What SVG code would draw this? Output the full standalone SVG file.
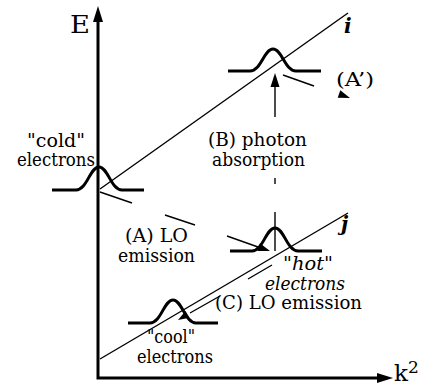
<svg xmlns="http://www.w3.org/2000/svg" width="431" height="387" viewBox="0 0 431 387">
<style>
text{font-family:'DejaVu Serif','Liberation Serif',serif;font-size:18px;fill:#000}
.it{font-style:italic}
.big{font-size:24px}
.lab{font-size:20px;font-weight:bold;font-style:italic}
.ax{stroke:#000;stroke-width:3;fill:none}
.band{stroke:#000;stroke-width:1.4;fill:none}
.g{stroke:#000;stroke-width:3;fill:none;stroke-linejoin:round}
.ln{stroke:#000;stroke-width:1.4;fill:none}
.ah{fill:#000;stroke:none}
</style>
<rect width="431" height="387" fill="#fff"/>
<g id="axes">
<path class="ax" d="M98,14 L98,378 L384,378"/>
<polygon class="ah" points="98,6 93,22 103,22"/>
<polygon class="ah" points="393,378 377,373 377,383"/>
<text class="big" x="70" y="33" textLength="20" lengthAdjust="spacingAndGlyphs">E</text>
<text style="font-size:23px" x="394" y="381">k<tspan style="font-size:17px" dy="-8">2</tspan></text>
</g>
<g id="band-i">
<path class="band" d="M100,189 L348,13"/>
<text class="lab" x="344" y="33">i</text>
</g>
<g id="band-j">
<path class="band" d="M100,359 L348,213"/>
<text class="lab" x="341" y="231">j</text>
</g>
<g id="cold">
<path class="g" d="M52,190 L76,190 C87,190 90,167 99,167 C108,167 111,190 122,190 L144,190"/>
<text x="27" y="147" textLength="58" lengthAdjust="spacingAndGlyphs">"cold"</text>
<text x="17" y="166" textLength="78" lengthAdjust="spacingAndGlyphs">electrons</text>
</g>
<g id="hot-upper">
<path class="g" d="M228,71 L250,71 C261,71 264,49 273,49 C282,49 285,71 296,71 L321,71"/>
</g>
<g id="hot">
<path class="g" d="M230,251 L252,251 C263,251 266,228 275,228 C284,228 287,251 298,251 L322,251"/>
<path class="ln" d="M275,212 L275,251"/>
<text class="it" x="283" y="270" textLength="50" lengthAdjust="spacingAndGlyphs">"hot"</text>
<text class="it" x="265" y="290" textLength="80" lengthAdjust="spacingAndGlyphs">electrons</text>
</g>
<g id="cool">
<path class="g" d="M128,323 L150,323 C161,323 164,300 173,300 C182,300 185,323 196,323 L218,323"/>
<text x="147" y="343" textLength="48" lengthAdjust="spacingAndGlyphs">"cool"</text>
<text x="137" y="363" textLength="76" lengthAdjust="spacingAndGlyphs">electrons</text>
</g>
<g id="connectors">
<path class="ln" d="M100,192 L132,203 M165,215 L195,225 M227,236 L258,247"/>
<polygon class="ah" points="270,251 257.4,250.9 260,243.3"/>
<path class="ln" d="M283,75 L314,86"/>
<polygon class="ah" points="350,98 337.7,97.8 340.3,90.2"/>
<path class="ln" d="M275,117 L275,84"/>
<polygon class="ah" points="275,73 270.5,87 279.5,87"/>
<path class="ln" d="M275,178 L275,184"/>
<path class="ln" d="M272,265 L248,279 M220,296 L190,313"/>
<polygon class="ah" points="178,320 189.5,317.8 185.5,311"/>
</g>
<g id="labels">
<text x="125" y="242" textLength="63" lengthAdjust="spacingAndGlyphs">(A) LO</text>
<text x="118" y="262" textLength="77" lengthAdjust="spacingAndGlyphs">emission</text>
<text x="208" y="146" textLength="99" lengthAdjust="spacingAndGlyphs">(B) photon</text>
<text x="212" y="166" textLength="93" lengthAdjust="spacingAndGlyphs">absorption</text>
<text x="336" y="86" textLength="38" lengthAdjust="spacingAndGlyphs">(A’)</text>
<text x="215" y="309" textLength="147" lengthAdjust="spacingAndGlyphs">(C) LO emission</text>
</g>
</svg>
